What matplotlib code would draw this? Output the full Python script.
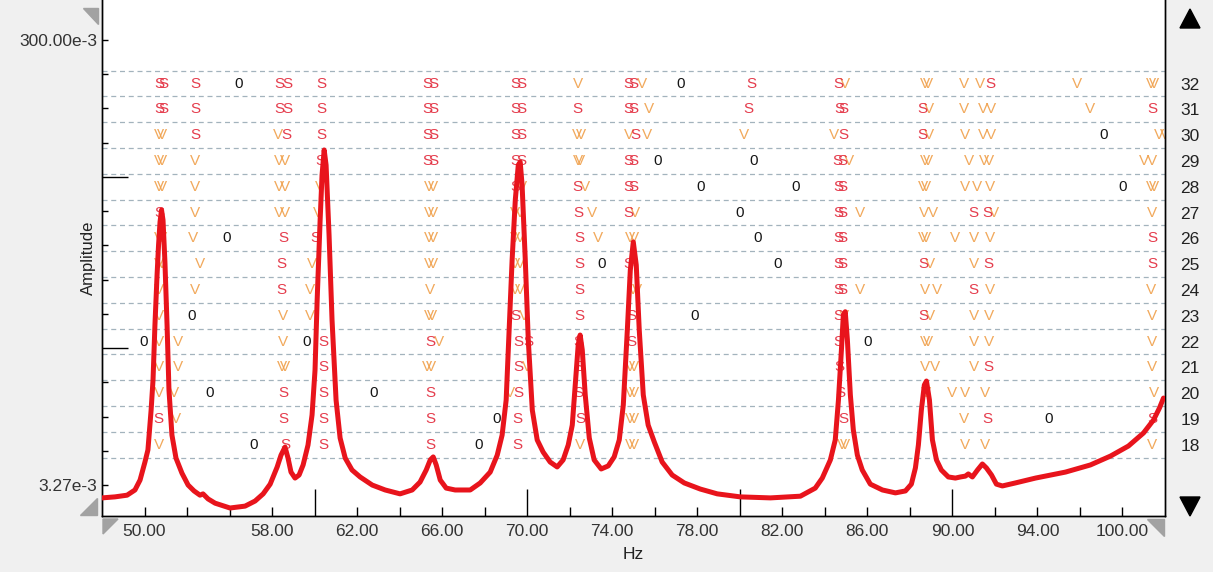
import matplotlib.pyplot as plt
from matplotlib.patches import Polygon
import numpy as np

plt.rcParams['font.family'] = ['Liberation Sans', 'DejaVu Sans']

# FRF sum curve: frequency (Hz) and amplitude (x 1e-3)
freq = [50.00, 50.61, 51.18, 51.55, 51.79, 52.02, 52.16, 52.31, 52.40, 52.49, 52.59, 52.66,
        52.73, 52.80, 52.87, 52.96, 53.06, 53.15, 53.29, 53.48, 53.76, 54.05, 54.33, 54.61,
        54.75, 54.99, 55.32, 56.02, 56.73, 57.20, 57.58, 57.91, 58.24, 58.42, 58.61, 58.75,
        58.89, 59.08, 59.27, 59.46, 59.69, 59.88, 60.02, 60.12, 60.26, 60.35, 60.45, 60.54,
        60.68, 60.82, 61.01, 61.20, 61.44, 61.76, 62.14, 62.71, 63.32, 64.02, 64.59, 64.96,
        65.25, 65.44, 65.58, 65.72, 65.91, 66.19, 66.61, 67.32, 67.79, 68.26, 68.59, 68.82,
        69.01, 69.15, 69.29, 69.44, 69.58, 69.67, 69.76, 69.91, 70.05, 70.24, 70.47, 70.75,
        71.08, 71.41, 71.69, 71.93, 72.12, 72.26, 72.40, 72.49, 72.59, 72.73, 72.92, 73.15,
        73.48, 73.81, 74.09, 74.33, 74.52, 74.71, 74.85, 74.99, 75.13, 75.27, 75.46, 75.69,
        75.98, 76.35, 76.82, 77.39, 78.14, 78.94, 80.02, 81.44, 82.85, 83.55, 83.88, 84.26,
        84.49, 84.64, 84.78, 84.87, 84.96, 85.06, 85.20, 85.34, 85.53, 85.76, 86.14, 86.71,
        87.32, 87.79, 88.07, 88.26, 88.40, 88.54, 88.68, 88.78, 88.92, 89.06, 89.25, 89.48,
        89.81, 90.14, 90.38, 90.61, 90.75, 90.94, 91.18, 91.41, 91.60, 91.84, 92.07, 92.35,
        92.96, 93.91, 95.32, 96.49, 97.44, 98.28, 98.99, 99.46, 99.74, 99.93]
amp_e3 = [2.87, 2.90, 2.95, 3.11, 3.44, 4.13, 4.67, 7.00, 9.50, 16.6, 27.6, 37.4,
          47.3, 53.4, 48.2, 31.5, 16.6, 8.58, 5.43, 4.30, 3.69, 3.27, 3.08, 2.95,
          2.99, 2.84, 2.72, 2.59, 2.64, 2.78, 2.99, 3.30, 3.93, 4.43, 4.81, 4.30,
          3.73, 3.51, 3.62, 4.01, 4.91, 6.66, 10.5, 21.4, 48.2, 76.2, 98.2, 84.3,
          41.4, 17.5, 7.75, 5.27, 4.30, 3.81, 3.55, 3.27, 3.11, 2.99, 3.11, 3.37,
          3.81, 4.22, 4.35, 4.01, 3.44, 3.17, 3.11, 3.11, 3.34, 3.73, 4.43, 5.43,
          7.75, 15.8, 32.1, 59.1, 84.3, 86.9, 68.8, 32.1, 14.3, 7.00, 5.17, 4.57,
          4.13, 3.93, 4.22, 4.91, 6.01, 9.03, 13.6, 15.0, 12.9, 8.16, 5.27, 4.22,
          3.85, 3.97, 4.35, 5.17, 7.37, 15.8, 29.0, 38.6, 30.5, 15.8, 8.16, 6.01,
          5.06, 4.13, 3.62, 3.34, 3.14, 2.99, 2.90, 2.87, 2.92, 3.17, 3.51, 4.22,
          5.17, 7.75, 12.9, 18.4, 19.0, 14.3, 8.16, 5.72, 4.43, 3.81, 3.30, 3.11,
          3.02, 3.08, 3.30, 3.89, 4.91, 7.00, 9.03, 9.40, 7.75, 5.17, 4.22, 3.81,
          3.55, 3.51, 3.55, 3.58, 3.66, 3.55, 3.81, 4.05, 3.89, 3.62, 3.30, 3.24,
          3.34, 3.51, 3.73, 4.01, 4.39, 4.86, 5.55, 6.33, 7.15, 7.91]

# stabilisation symbols: (frequency Hz, model order)
s_pts = [(52.68, 32), (52.87, 32), (52.68, 31), (52.87, 31), (52.70, 27), (52.65, 19),
         (54.38, 32), (54.38, 31), (54.38, 30),
         (58.33, 32), (58.71, 32), (58.33, 31), (58.71, 31), (58.69, 30), (58.53, 26),
         (58.45, 25), (58.45, 24), (58.53, 20), (58.53, 19), (58.61, 18),
         (60.34, 32), (60.34, 31), (60.34, 30), (60.26, 29), (60.05, 26), (60.41, 22),
         (60.41, 21), (60.41, 20), (60.41, 19), (60.41, 18),
         (65.29, 32), (65.58, 32), (65.29, 31), (65.58, 31), (65.29, 30), (65.58, 30),
         (65.29, 29), (65.58, 29), (65.44, 22), (65.44, 20), (65.44, 19), (65.44, 18),
         (69.44, 32), (69.72, 32), (69.44, 31), (69.72, 31), (69.44, 30), (69.72, 30),
         (69.44, 29), (69.72, 29), (69.44, 28), (69.44, 23), (69.59, 22), (70.06, 22),
         (69.59, 21), (69.59, 20), (69.56, 19), (69.56, 18),
         (72.38, 31), (72.34, 28), (72.41, 27), (72.45, 26), (72.45, 25), (72.45, 24),
         (72.45, 23), (72.41, 22), (72.45, 21), (72.41, 20), (72.49, 19),
         (74.77, 32), (75.00, 32), (74.77, 31), (75.00, 31), (75.08, 30), (74.77, 29),
         (75.00, 29), (74.77, 28), (75.00, 28), (74.77, 27), (74.77, 25), (74.92, 23),
         (74.92, 22),
         (80.54, 32), (80.39, 31),
         (84.65, 32), (84.70, 31), (84.89, 31), (84.89, 30), (84.60, 29), (84.81, 29),
         (84.65, 28), (84.85, 28), (84.65, 27), (84.85, 27), (84.65, 26), (84.85, 26),
         (84.65, 25), (84.85, 25), (84.65, 24), (84.85, 24), (84.65, 23), (84.65, 22),
         (84.70, 21), (84.75, 20), (84.89, 19),
         (88.57, 31), (88.57, 30), (88.62, 25), (88.62, 23),
         (91.79, 32), (91.00, 27), (91.63, 27), (91.71, 25), (91.00, 24), (91.71, 21),
         (91.63, 19),
         (99.40, 31), (99.40, 26), (99.40, 25), (99.40, 19)]
v_pts = [(52.66, 30), (52.82, 30), (52.66, 29), (52.82, 29), (52.66, 28), (52.82, 28),
         (52.66, 26), (52.82, 26), (52.66, 25), (52.82, 25), (52.70, 24), (52.70, 23),
         (52.70, 22), (52.70, 21), (52.70, 20), (52.70, 18),
         (54.38, 29), (54.38, 28), (54.38, 27), (54.30, 26), (54.61, 25), (54.38, 24),
         (53.59, 22), (53.59, 21), (53.39, 20), (53.48, 19),
         (58.30, 30), (58.33, 29), (58.61, 29), (58.33, 28), (58.61, 28), (58.33, 27),
         (58.61, 27), (58.53, 23), (58.53, 22), (58.45, 21), (58.61, 21),
         (60.26, 28), (60.18, 27), (59.87, 25), (59.79, 24), (59.79, 23),
         (65.36, 28), (65.55, 28), (65.36, 27), (65.55, 27), (65.36, 26), (65.55, 26),
         (65.36, 25), (65.55, 25), (65.44, 24), (65.40, 23), (65.50, 23), (65.83, 22),
         (65.30, 21), (65.46, 21),
         (69.75, 28), (69.44, 27), (69.65, 27), (69.44, 26), (69.65, 26), (69.44, 25),
         (69.65, 25), (69.44, 24), (69.65, 24), (69.83, 23), (69.98, 21), (69.20, 20),
         (72.41, 32), (72.36, 30), (72.51, 30), (72.40, 29), (72.48, 29), (72.73, 28),
         (73.04, 27), (73.35, 26), (72.49, 18),
         (75.40, 32), (75.71, 31), (74.77, 30), (75.63, 30), (75.08, 27), (74.85, 26),
         (75.02, 26), (74.98, 24), (75.16, 24), (74.85, 21), (75.02, 21), (74.85, 20),
         (75.02, 20), (74.85, 19), (75.02, 19), (74.85, 18), (75.02, 18),
         (80.18, 30),
         (84.96, 32), (84.42, 30), (85.12, 29), (85.67, 27), (85.67, 24), (84.89, 23),
         (84.81, 18), (84.96, 18),
         (88.70, 32), (88.87, 32), (88.89, 31), (88.89, 30), (88.70, 29), (88.87, 29),
         (88.62, 28), (88.78, 28), (88.67, 27), (89.07, 27), (88.62, 26), (88.78, 26),
         (88.96, 25), (88.73, 24), (89.28, 24), (88.93, 23), (88.70, 22), (88.87, 22),
         (88.70, 21), (89.20, 21), (88.78, 20),
         (90.53, 32), (91.32, 32), (90.53, 31), (91.44, 31), (91.82, 31), (90.61, 30),
         (91.44, 30), (91.82, 30), (90.77, 29), (91.47, 29), (91.74, 29), (90.61, 28),
         (91.14, 28), (91.79, 28), (91.95, 27), (90.14, 26), (91.00, 26), (91.75, 26),
         (91.00, 25), (91.75, 24), (91.00, 23), (91.71, 23), (91.00, 22), (91.71, 22),
         (91.00, 21), (89.98, 20), (90.61, 20), (91.55, 20), (90.53, 19), (90.61, 18),
         (91.55, 18),
         (95.84, 32), (99.32, 32), (99.48, 32), (96.49, 31), (99.72, 30), (100.0, 30),
         (98.99, 29), (99.41, 29), (99.32, 28), (99.48, 28), (99.40, 27), (99.32, 24),
         (99.40, 23), (99.40, 22), (99.40, 21), (99.47, 20), (99.40, 18)]
o_pts = [(56.42, 32), (55.87, 26), (54.22, 23), (51.94, 22), (55.08, 20), (57.12, 18),
         (59.63, 22), (62.78, 20), (68.57, 19), (67.71, 18), (73.52, 25), (77.86, 23),
         (77.20, 32), (76.13, 29), (78.14, 28), (82.61, 28), (79.98, 27), (80.82, 26),
         (81.76, 25), (80.65, 29), (85.99, 22), (94.53, 19), (97.12, 30), (97.99, 28)]

orders = list(range(18, 33))
xtick_pos = list(range(52, 100, 2))
xtick_text = {52: '50.00', 58: '58.00', 62: '62.00', 66: '66.00', 70: '70.00',
              74: '74.00', 78: '78.00', 82: '82.00', 86: '86.00', 90: '90.00',
              94: '94.00', 98: '100.00'}
xtick_long = [60, 70, 80, 90]
amp_low, amp_high = 3.27e-3, 300e-3

W, H = 1213, 572
fig = plt.figure(figsize=(W / 100, H / 100), dpi=100, facecolor='#f0f0f0')
ax = fig.add_axes([102 / W, 56 / H, 1063 / W, 516 / H])
ax.set_facecolor('white')
ax.set_xlim(50, 100)
ax.set_ylim(15.24, 35.24)

amp = ax.twinx()
ax.yaxis.tick_right()
amp.yaxis.tick_left()
amp.yaxis.set_label_position('left')

# dashed separators between model orders
for o in orders + [33]:
    ax.axhline(o - 0.5, color='#a3b3bd', lw=0.9, dashes=(4, 3), zorder=1)

sym_kw = dict(fontsize=11, ha='center', va='center', clip_on=True, zorder=2)
for f, o in v_pts:
    ax.text(f, o, 'V', color='#f0a04b', alpha=0.9, **sym_kw)
for f, o in s_pts:
    ax.text(f, o, 'S', color='#e2283a', alpha=0.9, **sym_kw)
for f, o in o_pts:
    ax.text(f, o, '0', color='#161616', **sym_kw)

amp.plot(freq, np.array(amp_e3) * 1e-3, color='#e8141c', lw=3.6,
         solid_joinstyle='round', solid_capstyle='round', zorder=3)
amp.set_yscale('log')
amp.set_ylim(2.388e-3, 0.4503)

# y ticks on the amplitude axis
yt = np.geomspace(amp_low, amp_high, 14)
amp.set_yticks(yt, labels=['3.27e-3'] + [''] * 12 + ['300.00e-3'])
amp.yaxis.set_minor_locator(plt.NullLocator())
amp.tick_params(axis='y', direction='in', length=4.5, width=1, pad=3.5,
                labelsize=12.5, labelcolor='#333333', color='black')
for i in (4, 9):
    amp.yaxis.get_major_ticks()[i].tick1line.set_markersize(19)
amp.set_ylabel('Amplitude', fontsize=12, color='#222222')
amp.yaxis.set_label_coords(-0.006, 0.5)

# x ticks
ax.set_xticks(xtick_pos, labels=[xtick_text.get(p, '') for p in xtick_pos])
ax.tick_params(axis='x', direction='in', length=6.5, width=1, pad=5.5,
               labelsize=12.5, labelcolor='#333333')
for t, p in zip(ax.xaxis.get_major_ticks(), xtick_pos):
    if p in xtick_long:
        t.tick1line.set_markersize(19.5)
ax.set_xlabel('Hz', fontsize=12.5, color='#222222', labelpad=6)

# model order labels on the right
ax.set_yticks(orders, labels=[str(o) for o in orders])
ax.tick_params(axis='y', length=0, pad=11, labelsize=12.5, labelcolor='#222222')

for a in (ax, amp):
    a.spines['top'].set_visible(False)
    for s in ('left', 'right', 'bottom'):
        a.spines[s].set_color('black')
        a.spines[s].set_linewidth(1)


def px(x, y):
    return (x / W, 1 - y / H)


gray = '#a2a2a2'
for tri in ([(83, 8), (98, 8), (98, 24)],
            [(80, 515), (97, 515), (97, 498)],
            [(103, 519), (118, 519), (103, 534)],
            [(1147, 519), (1164, 519), (1164, 536)]):
    fig.add_artist(Polygon([px(*p) for p in tri], closed=True, color=gray,
                           transform=fig.transFigure))
fig.add_artist(Polygon([px(1180, 28), px(1200, 28), px(1190, 9)], closed=True,
                       color='black', transform=fig.transFigure))
fig.add_artist(Polygon([px(1180, 497), px(1200, 497), px(1190, 516)], closed=True,
                       color='black', transform=fig.transFigure))

fig.savefig('out.png', dpi=100, facecolor=fig.get_facecolor())
